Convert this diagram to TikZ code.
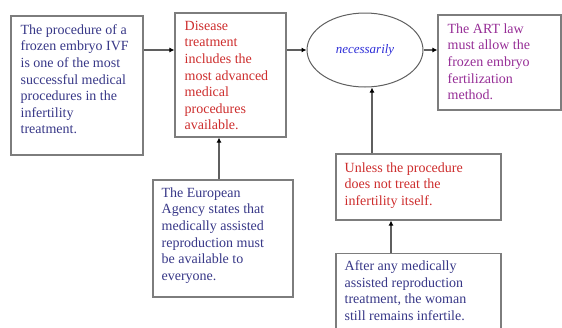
\documentclass[tikz,border=0pt]{standalone}
\usepackage{fontspec}
\setmainfont{Liberation Serif}
\newfontfamily\boxfont{Liberation Serif}
\usetikzlibrary{shapes.geometric,arrows.meta}

\definecolor{boxgray}{RGB}{125,125,125}
\definecolor{linegray}{RGB}{95,95,95}
\definecolor{procblue}{RGB}{55,55,135}
\definecolor{diseasered}{RGB}{205,45,45}
\definecolor{neceblue}{RGB}{45,45,215}
\definecolor{artpurple}{RGB}{150,45,150}

\tikzset{
  infobox/.style={draw=boxgray, line width=1.1pt, inner sep=0pt},
  boxtext/.style={anchor=north west, align=left, inner sep=0pt,
    font=\boxfont\fontsize{14}{16.6}\selectfont},
  arrowline/.style={draw=linegray, line width=1.1pt,
    -{Latex[length=5pt,width=5pt,color=black]}}
}

\begin{document}
\begin{tikzpicture}[x=1pt,y=-1pt]
            \useasboundingbox (0,0) rectangle (562,327);

            \clip (0,0) rectangle (562,327);

            %boxes
            \node[infobox, minimum width=132pt, minimum height=139pt] (proc) at (77,85.5) {};

            \node[boxtext, text=procblue] (proctext) at ([xshift=10pt,yshift=-7pt]proc.north west) {\strut The procedure of a\\frozen embryo IVF\\is one of the most\\successful medical\\procedures in the\\infertility\\treatment.};

            \node[infobox, minimum width=111pt, minimum height=124pt] (disease) at (230.5,75) {};

            \node[boxtext, text=diseasered] (diseasetext) at ([xshift=10pt,yshift=-6pt]disease.north west) {\strut Disease\\treatment\\includes the\\most advanced\\medical\\procedures\\available.};

            \node[draw=linegray, line width=1pt, ellipse, minimum width=116pt, minimum height=74pt, inner sep=0pt, text=neceblue, font=\boxfont\fontsize{13}{15}\selectfont\itshape] (necess) at (365,50) {necessarily};

            \node[infobox, minimum width=123pt, minimum height=95pt] (artlaw) at (499.5,62.5) {};

            \node[boxtext, text=artpurple] (arttext) at ([xshift=10pt,yshift=-7pt]artlaw.north west) {\strut The ART law\\must allow the\\frozen embryo\\fertilization\\method.};

            \node[infobox, minimum width=140pt, minimum height=117pt] (agency) at (223,238.5) {};

            \node[boxtext, text=procblue] (agencytext) at ([xshift=9pt,yshift=-6pt]agency.north west) {\strut The European\\Agency states that\\medically assisted\\reproduction must\\be available to\\everyone.};

            \node[infobox, minimum width=165pt, minimum height=66pt] (unless) at (418.5,187) {};

            \node[boxtext, text=diseasered] (unlesstext) at ([xshift=9pt,yshift=-7pt]unless.north west) {\strut Unless the procedure\\does not treat the\\infertility itself.};

            \node[infobox, minimum width=165pt, minimum height=90pt] (after) at (418.5,298.5) {};

            \node[boxtext, text=procblue] (aftertext) at ([xshift=9pt,yshift=-6pt]after.north west) {\strut After any medically\\assisted reproduction\\treatment, the woman\\still remains infertile.};

            %connectors
            \draw[arrowline] (proc.east |- necess.west) -- (disease.west |- necess.west);

            \draw[arrowline] (disease.east |- necess.west) -- (necess.west);

            \draw[arrowline] (necess.east) -- (artlaw.west |- necess.east);

            \draw[arrowline] ([xshift=-4pt]agency.north) -- ([xshift=-4pt]agency.north |- disease.south);

            \draw[arrowline] ([xshift=7pt]necess.south |- unless.north) -- ([xshift=7pt]necess.south);

            \draw[arrowline] ([xshift=-27.5pt]after.north) -- ([xshift=-27.5pt]unless.south);
        \end{tikzpicture}
\end{document}
